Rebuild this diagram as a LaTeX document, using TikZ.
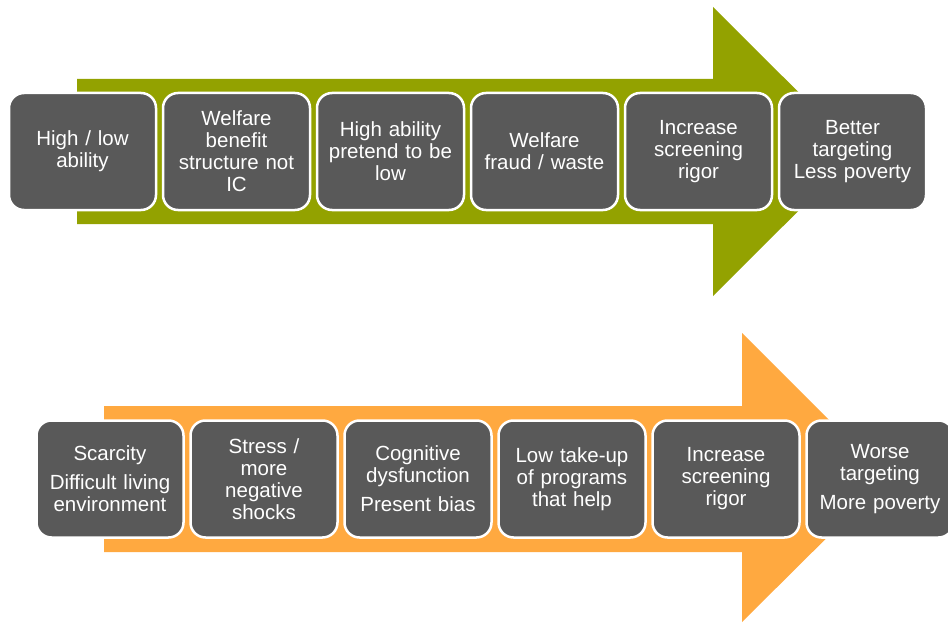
\documentclass[tikz,border=0pt]{standalone}
\usepackage{fontspec}
\setmainfont{Liberation Sans}
\definecolor{olivearrow}{HTML}{93A200}
\definecolor{orangearrow}{HTML}{FFA940}
\definecolor{boxgray}{HTML}{595959}
\begin{document}
\begin{tikzpicture}[x=1pt,y=-1pt,
  stepbox/.style={draw=white, line width=2.5pt, fill=boxgray, rounded corners=15pt,
    minimum width=147pt, minimum height=117pt, text width=142pt, align=center,
    text=white, inner sep=0pt,
    font=\fontsize{20.5}{22}\selectfont}]
\useasboundingbox (0,0) rectangle (948,623);
\fill[white] (0,0) rectangle (948,623);
% top arrow
\fill[olivearrow] (77,79) -- (713,79) -- (713,7) -- (858,151.5) -- (713,296) -- (713,224) -- (77,224) -- cycle;
% bottom arrow
\fill[orangearrow] (104,406) -- (742,406) -- (742,333) -- (887,478) -- (742,622) -- (742,552) -- (104,552) -- cycle;
% top boxes
\node[stepbox] (t1) at (82.5,151.5) {High / low\\ability};
\node[stepbox] (t2) at (236.5,151.5) {Welfare\\benefit\\structure not\\IC};
\node[stepbox] (t3) at (390.5,151.5) {High ability\\pretend to be\\low};
\node[stepbox] (t4) at (544.5,151.5) {Welfare\\fraud / waste};
\node[stepbox] (t5) at (698.5,151.5) {Increase\\screening\\rigor};
\node[stepbox] (t6) at (852.5,151.5) {Better\\targeting\\Less poverty};
% bottom boxes
\node[stepbox] (b1) at (110,479) {Scarcity\\[7pt]Difficult living\\environment};
\node[stepbox] (b2) at (264,479) {Stress /\\more\\negative\\shocks};
\node[stepbox] (b3) at (418,479) {Cognitive\\dysfunction\\[7pt]Present bias};
\node[stepbox] (b4) at (572,479) {Low take-up\\of programs\\that help};
\node[stepbox] (b5) at (726,479) {Increase\\screening\\rigor};
\node[stepbox] (b6) at (880,479) {Worse\\targeting\\[7pt]More poverty};
\end{tikzpicture}
\end{document}
